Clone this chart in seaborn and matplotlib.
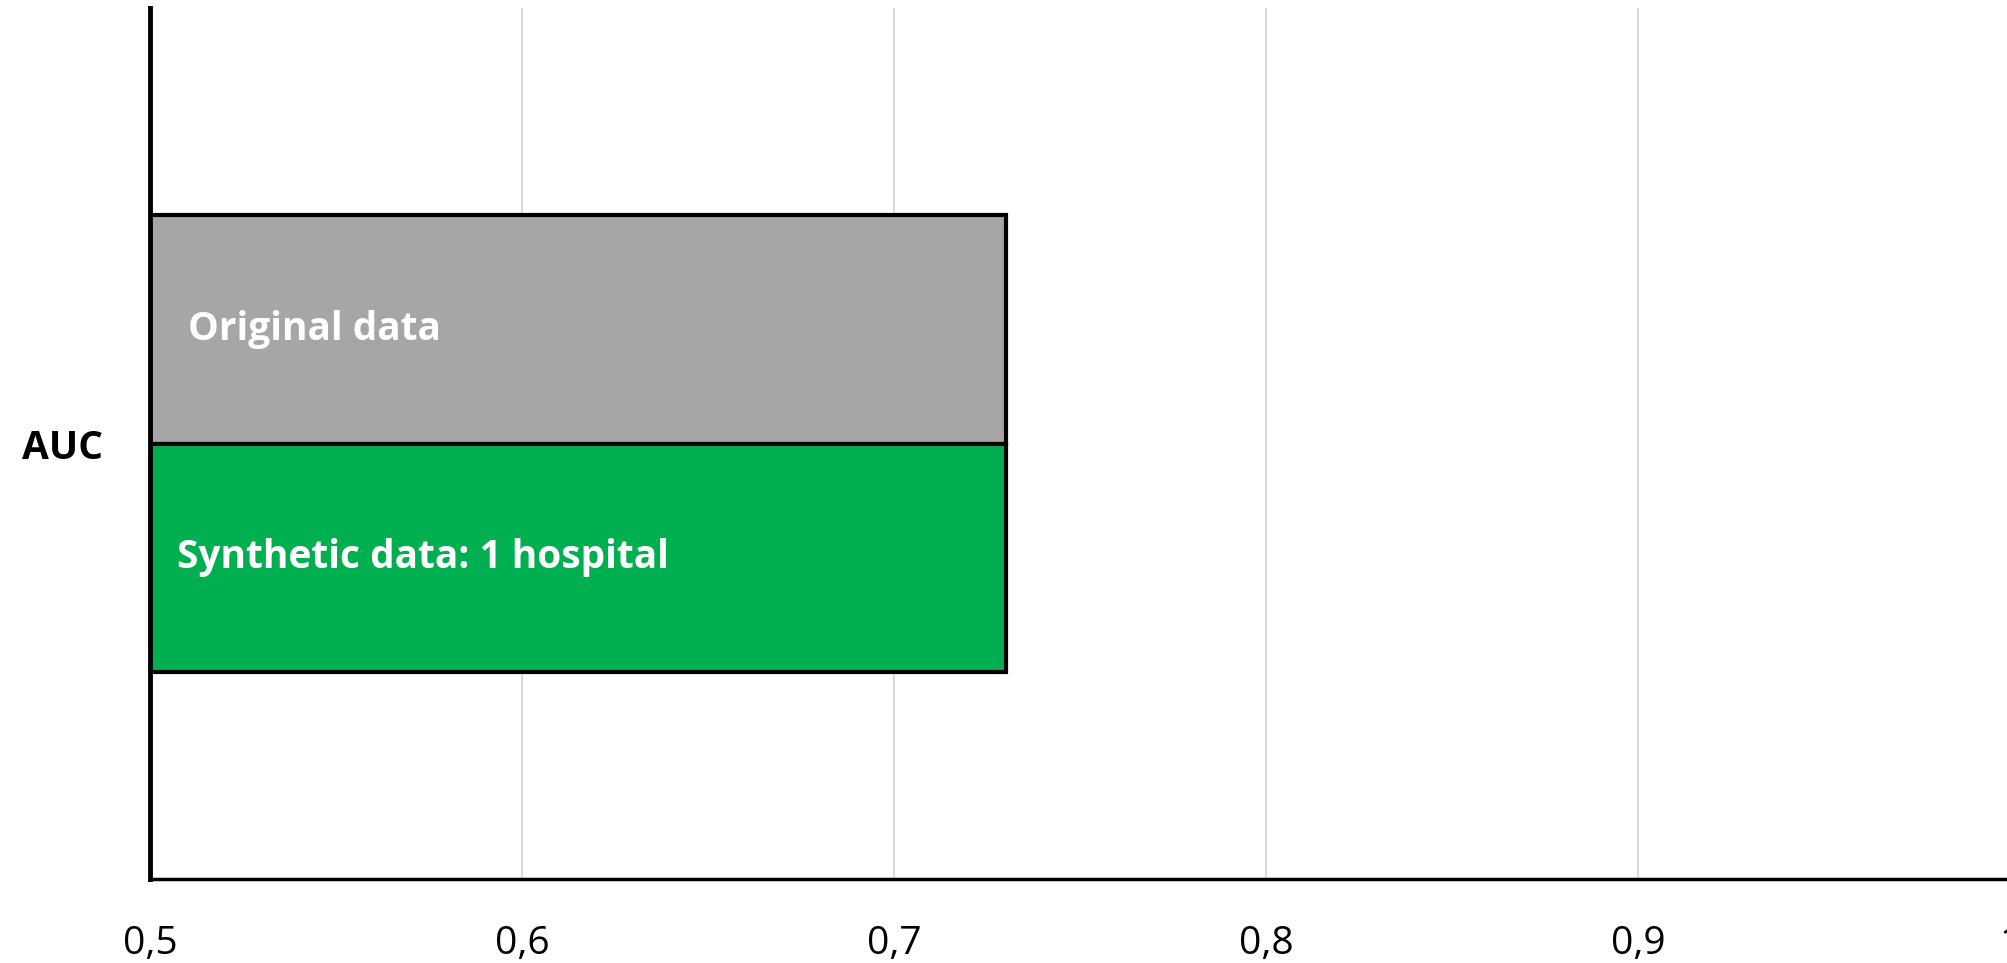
import matplotlib
matplotlib.use("Agg")
import matplotlib.pyplot as plt
import seaborn as sns
import pandas as pd

# ---- data ----
metrics = ["AUC"]
series = ["Original data", "Synthetic data: 1 hospital"]
values = [0.73, 0.73]
colors = ["#a6a6a6", "#00b050"]
x_ticks = [0.5, 0.6, 0.7, 0.8, 0.9, 1.0]
x_tick_labels = ["0,5", "0,6", "0,7", "0,8", "0,9", "1"]

df = pd.DataFrame({"metric": metrics * len(series), "series": series, "value": values})

sns.set_theme(style="white")
plt.rcParams["font.family"] = ["Open Sans", "DejaVu Sans"]

fig = plt.figure(figsize=(20.08, 9.63), dpi=100)
ax = fig.add_axes([0.0747, 0.0872, 0.9265, 0.9045])

sns.barplot(data=df, y="metric", x="value", hue="series", hue_order=series,
            palette=colors, orient="h", width=0.525, saturation=1,
            edgecolor="black", linewidth=3, legend=False, ax=ax, zorder=3)

ax.set_xlim(0.5, 1.0)
ax.set_ylim(0.5, -0.5)
ax.set_xticks(x_ticks)
ax.set_xticklabels(x_tick_labels, fontsize=28)
ax.set_yticks([0])
ax.set_yticklabels(metrics, fontsize=28, fontweight="bold")
ax.tick_params(axis="x", length=0, pad=33, colors="black")
ax.tick_params(axis="y", length=0, pad=34, colors="black")
ax.set_xlabel("")
ax.set_ylabel("")

ax.grid(axis="x", color="#d9d9d9", linewidth=1.5, zorder=0)
ax.set_axisbelow(True)
for s in ["top", "right"]:
    ax.spines[s].set_visible(False)
ax.spines["left"].set_color("black")
ax.spines["left"].set_linewidth(3.5)
ax.spines["left"].set_zorder(5)
ax.spines["bottom"].set_color("black")
ax.spines["bottom"].set_linewidth(2.5)

label_x = [0.5102, 0.5073]
bars = sorted(ax.patches, key=lambda p: p.get_y())
for bar, name, lx in zip(bars, series, label_x):
    yc = bar.get_y() + bar.get_height() / 2
    ax.text(lx, yc, name, color="white", fontsize=28, fontweight="bold",
            va="center", ha="left", zorder=6)

fig.savefig("out.png", dpi=100)
